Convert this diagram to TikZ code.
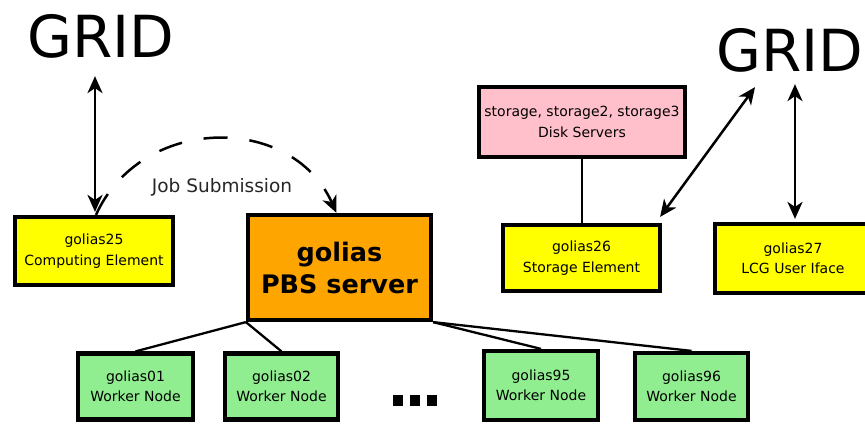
\documentclass[tikz,border=0pt]{standalone}
\usepackage{fontspec}
\setmainfont{DejaVu Sans}
\usetikzlibrary{arrows.meta,calc}
\definecolor{lgreen}{HTML}{90EE90}
\definecolor{pinkc}{HTML}{FFC0CB}
\definecolor{orangec}{HTML}{FFA500}
\definecolor{yellowc}{HTML}{FFFF00}
\begin{document}
\begin{tikzpicture}[x=1pt,y=-1pt,
  box/.style={draw=black, line width=4.2pt, align=center, inner sep=0pt, font=\fontsize{14}{20.5}\selectfont},
  ybox/.style={box, fill=yellowc},
  wbox/.style={box, fill=lgreen},
  gridtext/.style={inner sep=0pt, font=\fontsize{58}{58}\selectfont},
  tip/.tip={Stealth[length=17pt,width=15pt,inset=5pt]},
  arr/.style={line width=2.5pt, tip-tip},
  link/.style={line width=2.3pt},
  dotsq/.style={fill=black, minimum size=10.5pt, inner sep=0pt}
]
\useasboundingbox (0,0) rectangle (865,424);
\node[gridtext] (grid1) at (101,36) {GRID};
\node[gridtext] (grid2) at (790,50) {GRID};

\node[ybox, minimum width=158pt, minimum height=68pt] (g25) at (94,251) {golias25\\Computing Element};
\node[box, fill=orangec, minimum width=183pt, minimum height=105pt, font=\bfseries\fontsize{25.5}{32}\selectfont] (pbs) at (339.5,267.5) {golias\\PBS server};
\node[box, fill=pinkc, minimum width=206pt, minimum height=70pt] (stor) at (582,122) {storage, storage2, storage3\\Disk Servers};
\node[ybox, minimum width=157pt, minimum height=66pt] (g26) at (581.5,258) {golias26\\Storage Element};
\node[ybox, minimum width=156pt, minimum height=69pt] (g27) at (793,258.5) {golias27\\LCG User Iface};

\node[wbox, minimum width=115pt, minimum height=66pt] (w01) at (135.5,386.5) {golias01\\Worker Node};
\node[wbox, minimum width=113pt, minimum height=66pt] (w02) at (281.5,386.5) {golias02\\Worker Node};
\node[wbox, minimum width=114pt, minimum height=69pt] (w95) at (541,385.5) {golias95\\Worker Node};
\node[wbox, minimum width=113pt, minimum height=67pt] (w96) at (691.5,386.5) {golias96\\Worker Node};

\node[dotsq] (d1) at (398,400.5) {};
\node[dotsq] (d2) at (415,400.5) {};
\node[dotsq] (d3) at (432,400.5) {};

\node[anchor=base, text=black!85, font=\fontsize{18.5}{20}\selectfont] (job) at (222,192) {Job Submission};

% connectors
\draw[arr, shorten >=18pt, shorten <=3pt] ([xshift=1pt]g25.north) -- ([xshift=1pt]g25.north |- grid1.south);
\draw[line width=2.5pt, dash pattern=on 24pt off 22pt, -tip] ([xshift=2pt]g25.north) .. controls +(45,-100) and +(-45,-100) .. ([xshift=-3pt]pbs.north);
\draw[link] (stor.south) -- (stor.south |- g26.north);
\draw[arr] ($(g26.north east)+(-2,-6)$) -- ($(grid2.south)+(-35,15)$);
\draw[arr, shorten >=12pt, shorten <=3pt] ([xshift=2pt]g27.north) -- ([xshift=2pt]g27.north |- grid2.south);

\draw[link] (pbs.south west) -- (w01.north);
\draw[link] (pbs.south west) -- (w02.north);
\draw[link] (pbs.south east) -- (w95.north);
\draw[link] (pbs.south east) -- (w96.north);
\end{tikzpicture}
\end{document}
